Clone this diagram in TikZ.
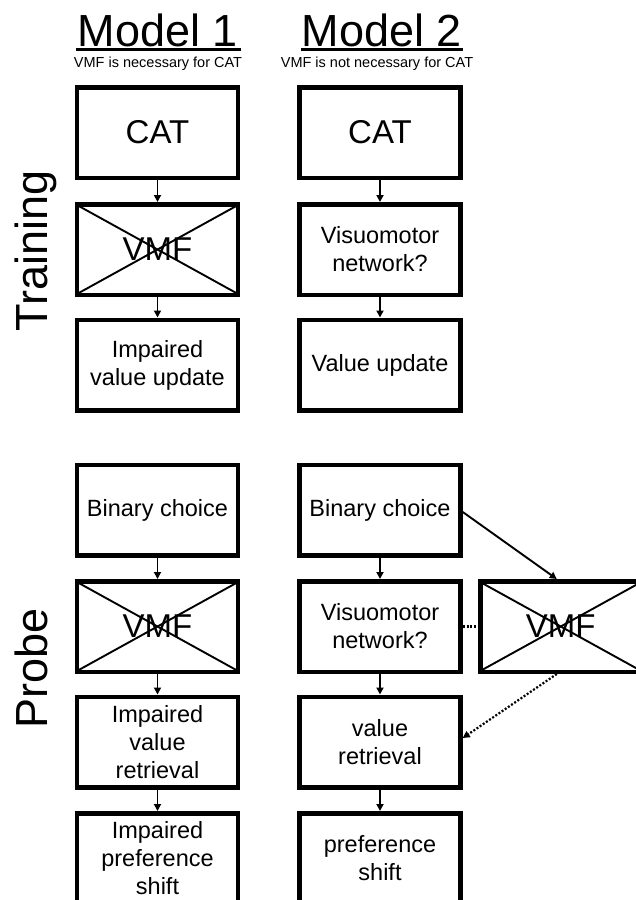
\documentclass[tikz,border=0pt]{standalone}
\usepackage{fontspec}
\setmainfont{Liberation Sans}
\usetikzlibrary{arrows.meta,calc}
\begin{document}
\begin{tikzpicture}[x=1pt,y=-1pt,
 box/.style={draw, line width=4.5pt, minimum width=161pt, minimum height=90.5pt, inner sep=0pt, align=center, font=\fontsize{23.5}{28}\selectfont},
 big/.style={box, font=\fontsize{33}{38}\selectfont},
 flow/.style={line width=1.9pt, -{Triangle[length=7pt,width=7pt]}},
 dotline/.style={line width=2.2pt, dash pattern=on 2pt off 1.8pt},
 crossline/.style={line width=1.9pt},
 title/.style={font=\fontsize{45}{50}\selectfont, inner sep=0pt, anchor=base},
 sub/.style={font=\fontsize{14.5}{16}\selectfont, inner sep=0pt, anchor=base},
 side/.style={font=\fontsize{45}{50}\selectfont, rotate=90, inner sep=0pt, anchor=base},
]
\clip (0,0) rectangle (636,900);
\fill[white] (0,0) rectangle (636,900);

% titles
\node[title] (m1) at (158,46) {Model 1};
\node[title] (m2) at (382,46) {Model 2};
\draw[line width=2.2pt] ($(m1.base west)+(-2,3.5)$) -- ($(m1.base east)+(3,3.5)$);
\draw[line width=2.2pt] ($(m2.base west)+(-1,3.5)$) -- ($(m2.base east)+(1,3.5)$);
\node[sub] (s1) at (158,67) {VMF is necessary for CAT};
\node[sub] (s2) at (377,67) {VMF is not necessary for CAT};

% side labels
\node[side] (tr) at (47,251) {Training};
\node[side] (pr) at (47,668) {Probe};

% Model 1 training
\node[big] (cat1) at (157.5,132.5) {CAT};
\node[big] (vmf1) at (157.5,249.5) {VMF};
\node[box] (upd1) at (157.5,365) {Impaired\\value update};
% Model 2 training
\node[big] (cat2) at (380,132.5) {CAT};
\node[box] (vis1) at (380,249.5) {Visuomotor\\network?};
\node[box] (upd2) at (380,365) {Value update};

% Model 1 probe
\node[box] (bc1) at (157.5,510) {Binary choice};
\node[big] (vmf2) at (157.5,626.5) {VMF};
\node[box] (ret1) at (157.5,742) {Impaired\\value\\retrieval};
\node[box] (sh1) at (157.5,858.5) {Impaired\\preference\\shift};
% Model 2 probe
\node[box] (bc2) at (380,510) {Binary choice};
\node[box] (vis2) at (380,626.5) {Visuomotor\\network?};
\node[box] (ret2) at (380,742) {value\\retrieval};
\node[box] (sh2) at (380,858.5) {preference\\shift};
\node[big] (vmf3) at (560.75,626.5) {VMF};

% crosses
\foreach \n in {vmf1,vmf2,vmf3}{
  \draw[crossline] ([xshift=4pt,yshift=-4pt]\n.north west) -- ([xshift=-4pt,yshift=4pt]\n.south east);
  \draw[crossline] ([xshift=4pt,yshift=4pt]\n.south west) -- ([xshift=-4pt,yshift=-4pt]\n.north east);
}

% arrows
\draw[flow] (cat1) -- (vmf1);
\draw[flow] (vmf1) -- (upd1);
\draw[flow] (cat2) -- (vis1);
\draw[flow] (vis1) -- (upd2);
\draw[flow] (bc1) -- (vmf2);
\draw[flow] (vmf2) -- (ret1);
\draw[flow] (ret1) -- (sh1);
\draw[flow] (bc2) -- (vis2);
\draw[flow] (vis2) -- (ret2);
\draw[flow] (ret2) -- (sh2);
\draw[flow] ($(bc2.east)+(0,2)$) -- ($(vmf3.north)+(-4,0)$);
\draw[dotline] (vis2.east) -- (vmf3.west);
\draw[dotline, -{Triangle[length=7pt,width=7pt]}] ($(vmf3.south)+(-4,0)$) -- ($(ret2.east)+(0,-4)$);
\end{tikzpicture}
\end{document}
